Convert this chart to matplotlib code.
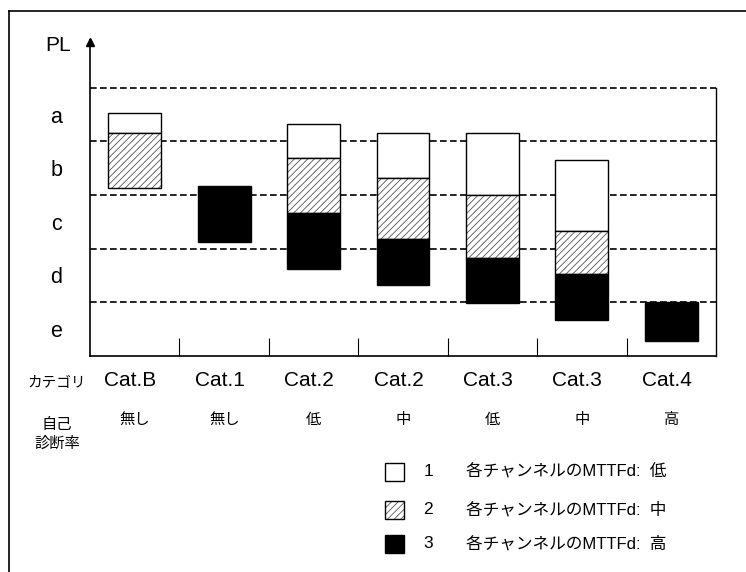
import numpy as np
import matplotlib
matplotlib.use("Agg")
import matplotlib.pyplot as plt
from matplotlib.patches import Rectangle
from matplotlib.lines import Line2D

plt.rcParams['font.family'] = ['Liberation Sans', 'Noto Sans CJK JP', 'DejaVu Sans']
plt.rcParams['hatch.linewidth'] = 0.6

# data (PL units: e=0-1, d=1-2, c=2-3, b=3-4, a=4-5)
categories = ['Cat.B', 'Cat.1', 'Cat.2', 'Cat.2', 'Cat.3', 'Cat.3', 'Cat.4']
dc_labels = ['無し', '無し', '低', '中', '低', '中', '高']
pl_labels = ['e', 'd', 'c', 'b', 'a']

# segment ranges for each MTTFd level (nan = not present)
low_top = np.array([4.53, np.nan, 4.32, 4.15, 4.15, 3.66, np.nan])
low_bottom = np.array([4.16, np.nan, 3.70, 3.32, 3.00, 2.33, np.nan])
mid_top = np.array([4.16, np.nan, 3.70, 3.32, 3.00, 2.33, np.nan])
mid_bottom = np.array([3.13, np.nan, 2.67, 2.18, 1.83, 1.52, np.nan])
high_top = np.array([np.nan, 3.17, 2.67, 2.18, 1.83, 1.52, 1.00])
high_bottom = np.array([np.nan, 2.13, 1.61, 1.32, 0.99, 0.67, 0.28])

legend_nums = ['1', '2', '3']
legend_texts = ['各チャンネルのMTTFd:  低', '各チャンネルのMTTFd:  中', '各チャンネルのMTTFd:  高']

W, H = 746, 572
fig = plt.figure(figsize=(W / 100, H / 100), dpi=100)
ax = fig.add_axes([90 / W, 1 - 355.7 / H, 626 / W, 316 / H])
ax.set_xlim(0, 7)
ax.set_ylim(0, 5.9)

x = np.arange(len(categories)) + 0.5
bw = 0.59

# dashed level lines
for yy in range(1, 6):
    ax.plot([0, 7], [yy, yy], color='black', lw=1.2, ls=(0, (4, 2)), zorder=1)

# white (low)
m = ~np.isnan(low_top)
ax.bar(x[m], (low_top - low_bottom)[m], bottom=low_bottom[m], width=bw,
       color='white', edgecolor='black', lw=1.0, zorder=3)
# hatched (mid): hatch pass then outline pass
m = ~np.isnan(mid_top)
ax.bar(x[m], (mid_top - mid_bottom)[m], bottom=mid_bottom[m], width=bw,
       color='white', edgecolor='#555555', hatch='/////', lw=0, zorder=3)
ax.bar(x[m], (mid_top - mid_bottom)[m], bottom=mid_bottom[m], width=bw,
       fill=False, edgecolor='black', lw=1.0, zorder=4)
# black (high)
m = ~np.isnan(high_top)
ax.bar(x[m], (high_top - high_bottom)[m], bottom=high_bottom[m], width=bw,
       color='black', edgecolor='black', lw=1.0, zorder=3)

# spines
ax.spines['top'].set_visible(False)
ax.spines['right'].set_bounds(0, 5)
ax.spines['right'].set_linewidth(1.0)
ax.spines['left'].set_linewidth(1.2)
ax.spines['bottom'].set_linewidth(1.2)
ax.plot(0, 5.85, marker='^', color='black', ms=6, clip_on=False, zorder=5)

# separators between categories
ax.set_xticks(np.arange(1, 7))
ax.set_xticklabels([])
ax.tick_params(axis='x', direction='in', length=13, width=0.8)

ax.set_yticks(np.arange(5) + 0.5)
ax.set_yticklabels(pl_labels, fontsize=15.5)
ax.tick_params(axis='y', length=0, pad=20)

ax.text(-0.36, 5.8, 'PL', fontsize=15, ha='center', va='center')

# category labels
for xi, c, d in zip(x, categories, dc_labels):
    ax.text(xi - 0.05, -0.47, c, fontsize=15, ha='center', va='center', clip_on=False)
    ax.text(xi, -1.20, d, fontsize=11, ha='center', va='center', clip_on=False)
ax.text(-0.37, -0.5, 'カテゴリ', fontsize=10.5, ha='center', va='center')
ax.text(-0.37, -1.30, '自己', fontsize=11, ha='center', va='center')
ax.text(-0.37, -1.65, '診断率', fontsize=11, ha='center', va='center')

# legend
box_styles = [dict(facecolor='white', hatch=None),
              dict(facecolor='white', hatch='/////'),
              dict(facecolor='black', hatch=None)]
row_y = [472, 510, 544]
for yy, num, txt, st in zip(row_y, legend_nums, legend_texts, box_styles):
    r = Rectangle((385 / W, 1 - (yy + 9) / H), 19 / W, 18 / H, transform=fig.transFigure,
                  facecolor=st['facecolor'], edgecolor='#555555' if st['hatch'] else 'black',
                  hatch=st['hatch'], lw=0 if st['hatch'] else 1.0)
    fig.patches.append(r)
    if st['hatch']:
        fig.patches.append(Rectangle((385 / W, 1 - (yy + 9) / H), 19 / W, 18 / H,
                                     transform=fig.transFigure, fill=False,
                                     edgecolor='black', lw=1.0))
    fig.text(428 / W, 1 - yy / H, num, fontsize=12.5, ha='center', va='center')
    fig.text(466 / W, 1 - yy / H, txt, fontsize=12, ha='left', va='center')

# outer frame
fig.add_artist(Line2D([9 / W, 9 / W], [0, 1 - 11 / H], transform=fig.transFigure, color='black', lw=1.2))
fig.add_artist(Line2D([9 / W, 1], [1 - 11 / H, 1 - 11 / H], transform=fig.transFigure, color='black', lw=1.2))

fig.savefig('out.png', dpi=100)
